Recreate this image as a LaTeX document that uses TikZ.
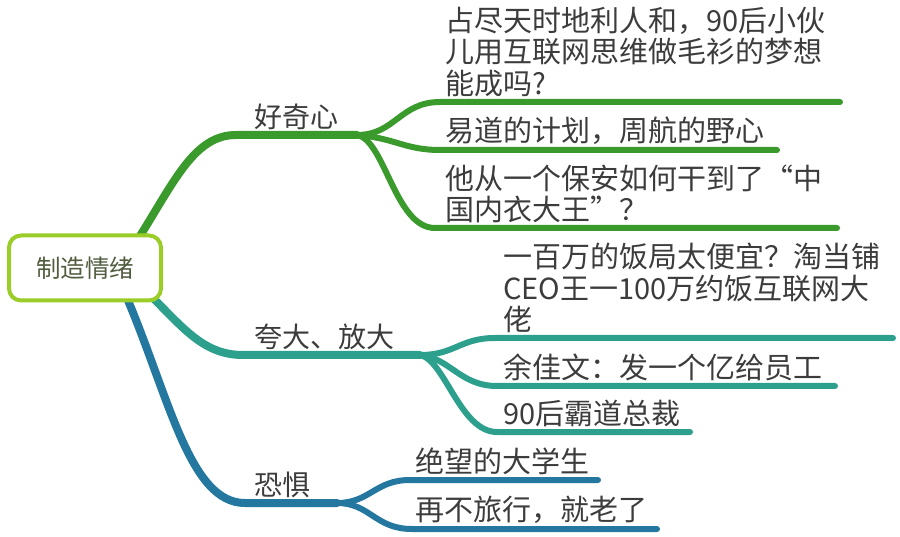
\documentclass[tikz,border=0pt]{standalone}
\usepackage{fontspec}
\setmainfont{Noto Sans CJK SC}
\begin{document}
\begin{tikzpicture}[x=1pt,y=-1pt,
  every node/.style={inner sep=0pt,outer sep=0pt},
  rootbox/.style={draw=rootlime,line width=4pt,rounded corners=12pt,fill=white,minimum width=152pt,minimum height=65pt,text=roottext,font=\fontsize{24.5}{28}\selectfont},
  mainlbl/.style={anchor=south west,text=txtgray,font=\fontsize{28}{32}\selectfont},
  leaf/.style={anchor=south west,text=txtgray,align=left,font=\fontsize{29}{31.5}\selectfont},
  mainline/.style={line width=8pt,line cap=round},
  subline/.style={line width=6pt,line cap=round}]
\definecolor{rootlime}{RGB}{155,205,40}
\definecolor{roottext}{RGB}{80,92,62}
\definecolor{txtgray}{RGB}{60,60,60}
\definecolor{cgreen}{RGB}{58,155,44}
\definecolor{cteal}{RGB}{44,160,140}
\definecolor{cblue}{RGB}{36,120,160}
\useasboundingbox (0,0) rectangle (900,537);

% coordinates
\coordinate (g0) at (140,236);
\coordinate (g1) at (236,135);
\coordinate (gj) at (357,135);
\coordinate (ga) at (440,102);
\coordinate (gae) at (840,102);
\coordinate (gb) at (440,150);
\coordinate (gbe) at (777,150);
\coordinate (gc) at (435,228);
\coordinate (gce) at (837,228);

\coordinate (t0) at (153,298);
\coordinate (t1) at (243,355);
\coordinate (tj) at (420,355);
\coordinate (ta) at (495,338);
\coordinate (tae) at (893,338);
\coordinate (tb) at (497,386);
\coordinate (tbe) at (835,386);
\coordinate (tc) at (497,432);
\coordinate (tce) at (690,432);

\coordinate (b0) at (127,298);
\coordinate (b1) at (245,503);
\coordinate (bj) at (337,503);
\coordinate (ba) at (410,480);
\coordinate (bae) at (598,480);
\coordinate (bb) at (412,529);
\coordinate (bbe) at (657,529);

% green branch
\draw[mainline,cgreen] (g0) .. controls (175,180) and (195,135) .. (g1) -- (gj);
\draw[subline,cgreen] (gj) .. controls (395,135) and (400,102) .. (ga) -- (gae);
\draw[subline,cgreen] (gj) .. controls (395,138) and (405,150) .. (gb) -- (gbe);
\draw[subline,cgreen] (gj) .. controls (385,140) and (395,228) .. (gc) -- (gce);

% teal branch
\draw[mainline,cteal] (t0) .. controls (185,330) and (205,355) .. (t1) -- (tj);
\draw[subline,cteal] (tj) .. controls (455,355) and (460,338) .. (ta) -- (tae);
\draw[subline,cteal] (tj) .. controls (450,358) and (460,386) .. (tb) -- (tbe);
\draw[subline,cteal] (tj) .. controls (445,360) and (460,432) .. (tc) -- (tce);

% blue branch
\draw[mainline,cblue] (b0) .. controls (170,400) and (190,503) .. (b1) -- (bj);
\draw[subline,cblue] (bj) .. controls (370,503) and (375,480) .. (ba) -- (bae);
\draw[subline,cblue] (bj) .. controls (370,503) and (375,529) .. (bb) -- (bbe);

% root
\node[rootbox] (root) at (85,268) {制造情绪};

% main labels
\node[mainlbl] (lg) at (254,130) {好奇心};
\node[mainlbl] (lt) at (254,350) {夸大、放大};
\node[mainlbl] (lb) at (254,498) {恐惧};

% leaves
\node[leaf] (la) at (445,97) {占尽天时地利人和，90后小伙\\儿用互联网思维做毛衫的梦想\\能成吗?};
\node[leaf] (lbb) at (445,145) {易道的计划，周航的野心};
\node[leaf] (lc) at (445,223) {他从一个保安如何干到了“中\\国内衣大王”？};
\node[leaf] (ld) at (503,333) {一百万的饭局太便宜？淘当铺\\CEO王一100万约饭互联网大\\佬};
\node[leaf] (le) at (503,381) {余佳文：发一个亿给员工};
\node[leaf] (lf) at (503,427) {90后霸道总裁};
\node[leaf] (lg2) at (415,475) {绝望的大学生};
\node[leaf] (lh) at (415,524) {再不旅行，就老了};
\end{tikzpicture}
\end{document}
